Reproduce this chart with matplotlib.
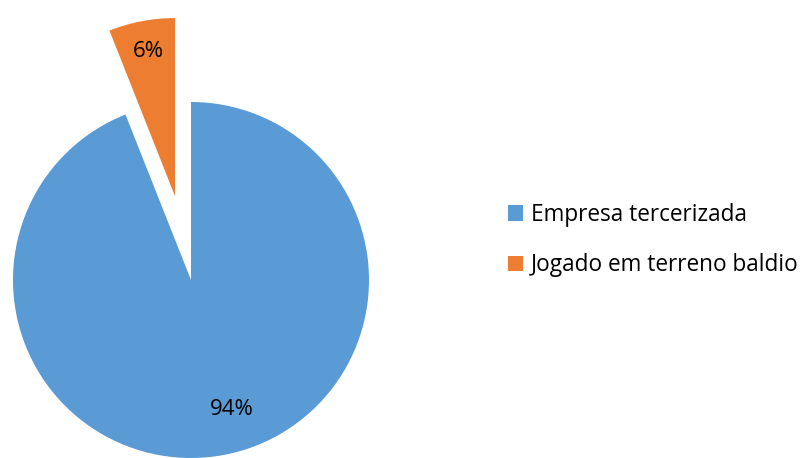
import matplotlib

matplotlib.use("Agg")
import matplotlib.pyplot as plt

labels = ["Empresa tercerizada", "Jogado em terreno baldio"]
values = [94, 6]
colors = ["#5B9BD5", "#ED7D31"]

plt.rcParams["font.family"] = ["Open Sans", "DejaVu Sans"]

fig = plt.figure(figsize=(8.06, 4.58), dpi=100)
R = 178.0
cx, cy = 191.0, 458 - 280.0
ax = fig.add_axes([0, 0, 382 / 806, 1])

wedges, texts, autotexts = ax.pie(
    values,
    colors=colors,
    startangle=90,
    counterclock=False,
    explode=[0, 0.48],
    autopct="%1.0f%%",
    pctdistance=0.8,
    textprops={"fontsize": 16, "color": "black"},
    wedgeprops={"linewidth": 0},
)
autotexts[0].set_position((0.23, -0.73))
autotexts[1].set_position((-0.15 - 0.09, 0.47 * 0.982 + 0.82))

ax.set_xlim(-cx / R, (382 - cx) / R)
ax.set_ylim(-cy / R, (458 - cy) / R)
ax.set_aspect("equal")
ax.axis("off")

fig.legend(
    wedges,
    labels,
    loc="center left",
    bbox_to_anchor=(488 / 806, 1 - 240 / 458),
    frameon=False,
    fontsize=16.3,
    handlelength=0.65,
    handleheight=0.65,
    handletextpad=0.35,
    labelspacing=1.15,
)

fig.savefig("out.png", dpi=100)
